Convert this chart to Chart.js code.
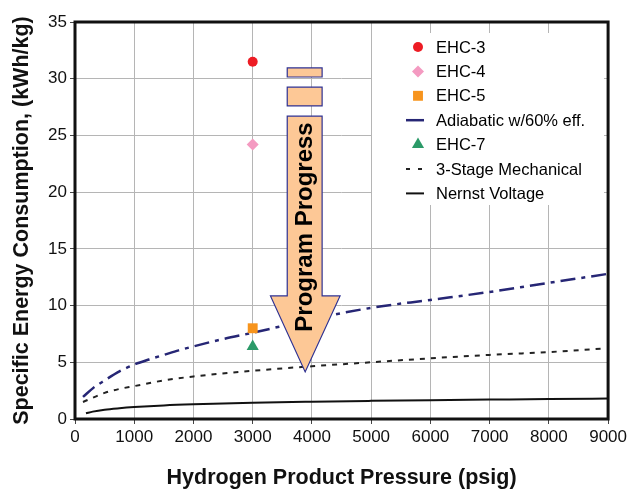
<!DOCTYPE html>
<html>
<head>
<meta charset="utf-8">
<script src="https://cdn.jsdelivr.net/npm/chart.js@4.4.0/dist/chart.umd.min.js"></script>
<style>
  html, body { margin: 0; padding: 0; background: #fff; }
  #wrap { width: 630px; height: 491px; }
</style>
</head>
<body>
<div id="wrap"><canvas id="chart"></canvas></div>
<script>
// measured points (all at 3000 psig)
const ehcLabels = ['EHC-3', 'EHC-4', 'EHC-5', 'EHC-7'];
const ehcPressure = [3000, 3000, 3000, 3000];
const ehcEnergy = [31.5, 24.2, 8.0, 6.4];

// reference curves
const adiabaticPressure = [135, 300, 500, 750, 1000, 1250, 1500, 1750, 2000, 2500, 3000, 4000, 5000, 6000, 7000, 8000, 9000];
const adiabaticEnergy = [1.95, 2.7, 3.4, 4.2, 4.8, 5.25, 5.65, 6.05, 6.4, 7.05, 7.6, 8.8, 9.8, 10.5, 11.2, 12.0, 12.8];

const mechPressure = [135, 500, 750, 1000, 1500, 2000, 3000, 4000, 5000, 6000, 7000, 8000, 8900];
const mechEnergy = [1.5, 2.3, 2.65, 2.9, 3.4, 3.75, 4.25, 4.65, 5.0, 5.35, 5.65, 5.9, 6.2];

const nernstPressure = [185, 300, 500, 750, 1000, 1500, 2000, 3000, 4000, 5000, 6000, 7000, 8000, 9000];
const nernstEnergy = [0.5, 0.65, 0.82, 0.95, 1.05, 1.2, 1.3, 1.44, 1.53, 1.6, 1.66, 1.71, 1.76, 1.8];

// axis ticks
const xTicks = [0, 1000, 2000, 3000, 4000, 5000, 6000, 7000, 8000, 9000];
const yTicks = [0, 5, 10, 15, 20, 25, 30, 35];

const pts = (xs, ys) => xs.map((x, i) => ({ x: x, y: ys[i] }));
const FONT = "'Liberation Sans', Arial, sans-serif";

// "Program Progress" arrow outline, in data units (psig, kWh/kg)
const arrowShape = {
  bits: [[3583, 30.95, 4172, 30.15], [3583, 29.25, 4172, 27.6]],
  body: { left: 3583, right: 4172, top: 26.7, base: 10.85 },
  head: { left: 3300, right: 4475, tip: 3886, tipY: 4.15 }
};

const arrowPlugin = {
  id: 'arrow',
  afterDatasetsDraw(chart) {
    const ctx = chart.ctx, xs = chart.scales.x, ys = chart.scales.y;
    const X = v => xs.getPixelForValue(v), Y = v => ys.getPixelForValue(v);
    ctx.save();
    ctx.fillStyle = '#fdc896';
    ctx.strokeStyle = '#2e3192';
    ctx.lineWidth = 1.2;
    arrowShape.bits.forEach(b => {
      ctx.beginPath();
      ctx.rect(X(b[0]), Y(b[1]), X(b[2]) - X(b[0]), Y(b[3]) - Y(b[1]));
      ctx.fill();
      ctx.stroke();
    });
    const bd = arrowShape.body, hd = arrowShape.head;
    ctx.beginPath();
    ctx.moveTo(X(bd.left), Y(bd.top));
    ctx.lineTo(X(bd.right), Y(bd.top));
    ctx.lineTo(X(bd.right), Y(bd.base));
    ctx.lineTo(X(hd.right), Y(bd.base));
    ctx.lineTo(X(hd.tip), Y(hd.tipY));
    ctx.lineTo(X(hd.left), Y(bd.base));
    ctx.lineTo(X(bd.left), Y(bd.base));
    ctx.closePath();
    ctx.fill();
    ctx.stroke();
    // label
    ctx.translate((X(bd.left) + X(bd.right)) / 2, 227);
    ctx.rotate(-Math.PI / 2);
    ctx.fillStyle = '#000';
    ctx.font = 'bold 24px ' + FONT;
    ctx.textAlign = 'center';
    ctx.textBaseline = 'middle';
    ctx.fillText('Program Progress', 0, 1);
    ctx.restore();
  }
};

const legendPlugin = {
  id: 'boxLegend',
  afterDatasetsDraw(chart) {
    const ctx = chart.ctx;
    ctx.save();
    ctx.fillStyle = '#fff';
    ctx.fillRect(372, 33, 232, 172);
    ctx.font = '16.5px ' + FONT;
    ctx.textBaseline = 'middle';
    chart.data.datasets.forEach((ds, i) => {
      const y = 47 + i * 24.4;
      if (ds.showLine) {
        ctx.beginPath();
        ctx.setLineDash(ds.legendDash || []);
        ctx.strokeStyle = ds.borderColor;
        ctx.lineWidth = ds.borderWidth;
        ctx.moveTo(406, y);
        ctx.lineTo(424, y);
        ctx.stroke();
        ctx.setLineDash([]);
      } else {
        ctx.fillStyle = ds.backgroundColor;
        Chart.helpers.drawPoint(ctx, { pointStyle: ds.pointStyle, radius: ds.legendRadius, rotation: 0, borderWidth: 0 }, 418, y);
      }
      ctx.fillStyle = '#000';
      ctx.fillText(ds.label, 436, y + 1);
    });
    ctx.restore();
  }
};

const framePlugin = {
  id: 'frame',
  afterDraw(chart) {
    const a = chart.chartArea, ctx = chart.ctx;
    ctx.save();
    ctx.strokeStyle = '#111';
    ctx.lineWidth = 3;
    ctx.strokeRect(a.left, a.top, a.right - a.left, a.bottom - a.top);
    ctx.restore();
  }
};

const pointSet = (i, style, color, radius) => ({
  type: 'scatter',
  label: ehcLabels[i],
  data: [{ x: ehcPressure[i], y: ehcEnergy[i] }],
  pointStyle: style,
  backgroundColor: color,
  borderColor: color,
  pointRadius: radius,
  borderWidth: 0,
  legendRadius: radius,
  showLine: false
});

const ctx = document.getElementById('chart').getContext('2d');
const chart = new Chart(ctx, {
  type: 'scatter',
  data: {
    datasets: [
      pointSet(0, 'circle', '#ed1c24', 5),
      pointSet(1, 'rectRot', '#f49ac1', 6),
      pointSet(2, 'rect', '#f7941d', 7),
      {
        label: 'Adiabatic w/60% eff.',
        data: pts(adiabaticPressure, adiabaticEnergy),
        showLine: true,
        borderColor: '#262675',
        borderWidth: 2.5,
        borderDash: [15, 6, 4, 6],
        legendDash: [],
        pointRadius: 0,
        cubicInterpolationMode: 'monotone'
      },
      pointSet(3, 'triangle', '#2b9a68', 7),
      {
        label: '3-Stage Mechanical',
        data: pts(mechPressure, mechEnergy),
        showLine: true,
        borderColor: '#222',
        borderWidth: 2,
        borderDash: [5, 6],
        legendDash: [4, 8],
        pointRadius: 0,
        cubicInterpolationMode: 'monotone'
      },
      {
        label: 'Nernst Voltage',
        data: pts(nernstPressure, nernstEnergy),
        showLine: true,
        borderColor: '#111',
        borderWidth: 2,
        pointRadius: 0,
        cubicInterpolationMode: 'monotone'
      }
    ]
  },
  options: {
    responsive: true,
    maintainAspectRatio: false,
    animation: false,
    layout: { padding: { top: 22, right: 18, left: 0, bottom: 0 } },
    plugins: {
      legend: { display: false },
      tooltip: { enabled: false }
    },
    scales: {
      x: {
        type: 'linear',
        min: 0,
        max: 9000,
        afterBuildTicks: axis => { axis.ticks = xTicks.map(v => ({ value: v })); },
        afterFit: axis => { axis.height = 72; },
        grid: { color: '#b5b5b5', lineWidth: 1, tickLength: 5, tickColor: '#444' },
        border: { display: false },
        ticks: { color: '#111', font: { family: FONT, size: 17 }, padding: 3, maxRotation: 0, callback: v => String(v) },
        title: {
          display: true,
          text: 'Hydrogen Product Pressure (psig)',
          color: '#111',
          font: { family: FONT, size: 21.5, weight: 'bold' },
          padding: { top: 14, bottom: 0 }
        }
      },
      y: {
        type: 'linear',
        min: 0,
        max: 35,
        afterBuildTicks: axis => { axis.ticks = yTicks.map(v => ({ value: v })); },
        afterFit: axis => { axis.width = 75; },
        grid: { color: '#b5b5b5', lineWidth: 1, tickLength: 5, tickColor: '#444' },
        border: { display: false },
        ticks: { color: '#111', font: { family: FONT, size: 17 }, padding: 3, callback: v => String(v) },
        title: {
          display: true,
          text: 'Specific Energy Consumption, (kWh/kg)',
          color: '#111',
          font: { family: FONT, size: 21.5, weight: 'bold' },
          padding: { top: 9, bottom: 0 }
        }
      }
    }
  },
  plugins: [arrowPlugin, legendPlugin, framePlugin]
});
</script>
</body>
</html>
